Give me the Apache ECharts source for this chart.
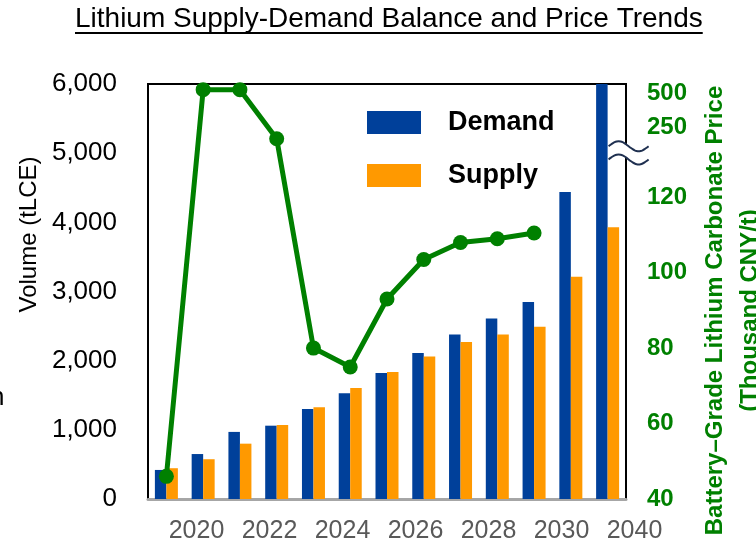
<!DOCTYPE html>
<html>
<head>
<meta charset="utf-8">
<script src="https://cdn.jsdelivr.net/npm/echarts@6/dist/echarts.min.js"></script>
<style>
  html, body { margin: 0; padding: 0; background: #fff; }
  #main { width: 756px; height: 544px; }
</style>
</head>
<body>
<div id="main"></div>
<script>
// one bar pair per year
var years = ['2019', '2020', '2021', '2022', '2023', '2024', '2025', '2026', '2027', '2028', '2029', '2030', '2040'];
// labels printed under the x axis
var yearTicks = ['2020', '2022', '2024', '2026', '2028', '2030', '2040'];
// volume, tLCE
var demand = [420, 650, 970, 1060, 1300, 1530, 1820, 2110, 2380, 2610, 2850, 4440, 6000];
var supply = [445, 575, 800, 1070, 1325, 1605, 1835, 2060, 2270, 2380, 2490, 3215, 3930];
// battery-grade lithium carbonate, thousand CNY/t
var price = [46, 501, 501, 247, 80, 75, 93, 103.5, 108, 109, 110.5, null, null];
var priceTicks = [40, 60, 80, 100, 120, 250, 500];

var FONT = "'Liberation Sans', Arial, sans-serif";
var GREEN = '#008000';
var titleText = 'Lithium Supply-Demand Balance and Price Trends';

var chart = echarts.init(document.getElementById('main'));

var option = {
  animation: false,
  textStyle: { fontFamily: FONT },
  title: {
    text: titleText,
    left: 75,
    top: 5,
    padding: 0,
    textStyle: { fontFamily: FONT, fontSize: 28, fontWeight: 'normal', color: '#000' }
  },
  legend: {
    data: ['Demand', 'Supply'],
    orient: 'vertical',
    left: 367,
    top: 109,
    padding: 0,
    icon: 'rect',
    itemWidth: 54,
    itemHeight: 23,
    itemGap: 26,
    textStyle: { fontFamily: FONT, fontSize: 27, fontWeight: 'bold', color: '#000', padding: [0, 0, 0, 22] }
  },
  grid: [
    { left: 148, right: 130, top: 84, bottom: 45, show: true, borderColor: '#000', borderWidth: 2, outerBoundsMode: 'none' },
    // only carries the year labels, which sit between the bar groups
    { left: 160, right: 85, top: 84, bottom: 45, outerBoundsMode: 'none' }
  ],
  xAxis: [
    {
      type: 'category', gridIndex: 0, data: years,
      axisLine: { lineStyle: { color: '#a6a6a6', width: 3 } },
      axisTick: { show: false },
      axisLabel: { show: false }
    },
    {
      type: 'category', gridIndex: 1, data: yearTicks,
      axisLine: { show: false },
      axisTick: { show: false },
      axisLabel: { color: '#595959', fontSize: 25, margin: 20, fontFamily: FONT }
    }
  ],
  yAxis: [
    {
      type: 'value', gridIndex: 0, min: 0, max: 6000, interval: 1000,
      name: 'Volume (tLCE)',
      nameLocation: 'middle',
      nameGap: 105,
      nameRotate: 90,
      nameTextStyle: { fontFamily: FONT, fontSize: 24, color: '#000', padding: [0, 0, 0, 114] },
      axisLine: { show: false },
      axisTick: { show: false },
      splitLine: { show: false },
      axisLabel: {
        color: '#000', fontSize: 26, margin: 31, fontFamily: FONT,
        formatter: function (v) { return v.toLocaleString('en-US'); }
      }
    },
    {
      type: 'value', gridIndex: 0, position: 'right', min: 40, max: 502.5,
      breaks: [
        { start: 130, end: 245, gap: 3.5 },
        { start: 252, end: 498, gap: 5 }
      ],
      breakArea: { show: false },
      name: 'Battery\u2013Grade Lithium Carbonate Price\n(Thousand CNY/t)',
      nameLocation: 'middle',
      nameGap: 68,
      nameRotate: 90,
      nameTextStyle: {
        fontFamily: FONT, fontSize: 24, fontWeight: 'bold', color: GREEN,
        lineHeight: 35, align: 'center', padding: [0, 38, 0, 0]
      },
      axisLine: { show: false },
      axisTick: { show: false },
      splitLine: { show: false },
      axisLabel: {
        customValues: priceTicks,
        color: GREEN, fontSize: 24, fontWeight: 'bold', margin: 21, fontFamily: FONT
      }
    },
    { type: 'value', gridIndex: 1, show: false }
  ],
  series: [
    {
      name: 'Demand', type: 'bar', data: demand,
      barWidth: 11.5, barGap: '0%',
      itemStyle: { color: '#00409A' }
    },
    {
      name: 'Supply', type: 'bar', data: supply,
      barWidth: 11.5, barGap: '0%',
      itemStyle: { color: '#FF9900' }
    },
    {
      name: 'Price', type: 'line', yAxisIndex: 1, data: price,
      symbol: 'circle', symbolSize: 15,
      lineStyle: { width: 5, color: GREEN },
      itemStyle: { color: GREEN },
      z: 5
    }
  ]
};

chart.setOption(option);

// underline under the title
var ctx = document.createElement('canvas').getContext('2d');
ctx.font = "28px 'Liberation Sans'";
var titleW = ctx.measureText(titleText).width;

// break marks on the price axis
var xRight = chart.convertToPixel({ xAxisIndex: 0 }, years.length - 1) + 19;
var yLow = chart.convertToPixel({ yAxisIndex: 1 }, 130);
var yHigh = chart.convertToPixel({ yAxisIndex: 1 }, 245);
function wave(y, x0, x1, start) {
  var pts = [];
  for (var x = x0; x <= x1; x += 2) {
    pts.push([x, y - 5 * Math.sin((x - start) / 40 * 2 * Math.PI)]);
  }
  return pts;
}
var w0 = xRight - 18;
var topWave = wave(yHigh, w0, w0 + 40, w0);
var lowWave = wave(yLow, w0, w0 + 40, w0);
var fill = wave(yHigh, w0 + 10, w0 + 40, w0).concat(wave(yLow, w0 + 10, w0 + 40, w0).reverse());

chart.setOption({
  graphic: [
    { type: 'rect', shape: { x: 75, y: 32, width: titleW, height: 2 }, style: { fill: '#000' } },
    { type: 'polygon', shape: { points: fill }, style: { fill: '#fff' }, z: 10 },
    { type: 'polyline', shape: { points: topWave, smooth: 0.3 }, style: { stroke: '#1F3050', lineWidth: 2, fill: null }, z: 11 },
    { type: 'polyline', shape: { points: lowWave, smooth: 0.3 }, style: { stroke: '#1F3050', lineWidth: 2, fill: null }, z: 11 },
    { type: 'text', style: { x: -10, y: 398, text: 'n', font: "26px 'Liberation Sans'", fill: '#000', textVerticalAlign: 'middle' } }
  ]
});

window.onresize = function () {
  chart.resize();
};
</script>
</body>
</html>
